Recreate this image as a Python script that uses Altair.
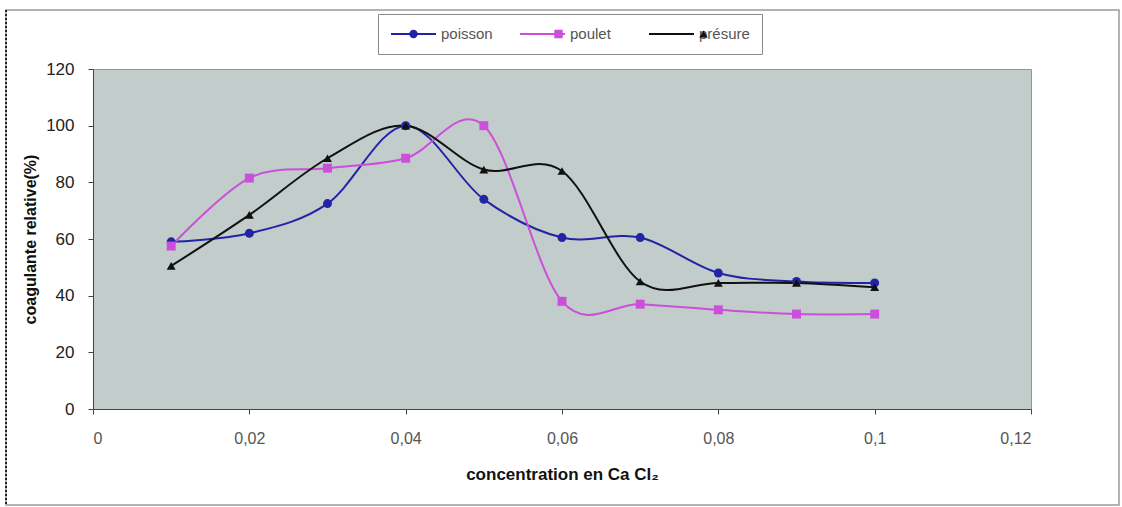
import altair as alt
import pandas as pd

conc = [0.01, 0.02, 0.03, 0.04, 0.05, 0.06, 0.07, 0.08, 0.09, 0.1]
poisson = [59, 62, 72.5, 100, 74, 60.5, 60.5, 48, 45, 44.5]
poulet = [57.5, 81.5, 85, 88.5, 100, 38, 37, 35, 33.5, 33.5]
presure = [50.5, 68.5, 88.5, 100, 84.5, 84, 45, 44.5, 44.5, 43]

series_names = ["poisson", "poulet", "présure"]
series_colors = ["#2323a6", "#cc4fdc", "#111111"]
series_shapes = ["circle", "square", "triangle-up"]
x_ticks = [0, 0.02, 0.04, 0.06, 0.08, 0.1, 0.12]
y_ticks = [0, 20, 40, 60, 80, 100, 120]

rows = []
for name, vals in zip(series_names, [poisson, poulet, presure]):
    for c, v in zip(conc, vals):
        rows.append({"conc": c, "val": v, "serie": name})
df = pd.DataFrame(rows)

x_enc = alt.X(
    "conc:Q",
    scale=alt.Scale(domain=[0, 0.12], nice=False, zero=False),
    axis=alt.Axis(
        values=x_ticks,
        labelExpr="replace(toString(datum.value), '.', ',')",
        title="concentration en Ca Cl₂",
        grid=False,
        tickSize=5,
        labelPadding=16,
        labelFontSize=16,
        labelColor="#555555",
        labelFont="Liberation Sans",
        titleFont="Liberation Sans",
        titleFontSize=17,
        titleFontWeight="bold",
        titleColor="#111111",
        titlePadding=20,
        domainColor="#444444",
        tickColor="#444444",
    ),
)
y_enc = alt.Y(
    "val:Q",
    scale=alt.Scale(domain=[0, 120], nice=False),
    axis=alt.Axis(
        values=y_ticks,
        title="coagulante relative(%)",
        grid=False,
        tickSize=5,
        labelPadding=14,
        labelFontSize=17,
        labelColor="#222222",
        labelFont="Liberation Sans",
        titleFont="Liberation Sans",
        titleFontSize=16,
        titleFontWeight="bold",
        titleColor="#111111",
        titleAngle=270,
        titleX=-63,
        titleY=170,
        titleAlign="center",
        titleBaseline="middle",
        domainColor="#444444",
        tickColor="#444444",
    ),
)

common_legend = dict(
    title=None,
    orient="none",
    direction="horizontal",
    columns=3,
    gridAlign="all",
    legendX=285,
    legendY=-55,
    padding=12,
    clipHeight=16,
    columnPadding=26,
    labelFontSize=15,
    labelFont="Liberation Sans",
)

# line part of the legend (drawn with its box)
line_legend = alt.Legend(
    **common_legend,
    fillColor="white",
    strokeColor="#8a8a8a",
    symbolType="stroke",
    symbolSize=2025,
    symbolStrokeWidth=2,
    labelOffset=4,
    labelColor="#555555",
    zindex=0,
)

# marker part of the legend (sits on top of the line symbols)
marker_legend = alt.Legend(
    **common_legend,
    symbolSize=70,
    symbolStrokeWidth=0,
    symbolOffset=16,
    labelOffset=36,
    labelOpacity=0,
    zindex=1,
)

lines = alt.Chart(df).mark_line(interpolate="cardinal", strokeWidth=2).encode(
    x=x_enc,
    y=y_enc,
    stroke=alt.Stroke(
        "serie:N",
        scale=alt.Scale(domain=series_names, range=series_colors),
        legend=line_legend,
    ),
)

points = (
    alt.Chart(df)
    .transform_calculate(serie_m="datum.serie")
    .mark_point(filled=True, size=80, opacity=1)
    .encode(
        x="conc:Q",
        y="val:Q",
        color=alt.Color(
            "serie_m:N",
            scale=alt.Scale(range=series_colors),
            legend=marker_legend,
        ),
        shape=alt.Shape(
            "serie_m:N",
            scale=alt.Scale(range=series_shapes),
            legend=marker_legend,
        ),
    )
)

frame_data = alt.Data(values=[{"k": 1}])
frame = alt.Chart(frame_data).mark_rect(fill=None, stroke="#9a9a9a", strokeWidth=1.5).encode(
    x=alt.value(-87), x2=alt.value(1026), y=alt.value(-59), y2=alt.value(436)
)
left_edge = alt.Chart(frame_data).mark_rule(
    stroke="#222222", strokeWidth=2, strokeDash=[2, 2]
).encode(x=alt.value(-87), y=alt.value(-59), y2=alt.value(436))

chart = (
    alt.layer(frame, left_edge, lines, points)
    .properties(
        width=938,
        height=340,
        autosize=alt.AutoSizeParams(type="none"),
        padding={"left": 93, "top": 69, "right": 91, "bottom": 98},
        background="white",
    )
    .configure_view(fill="#c2ccca", stroke="#8f9898", strokeWidth=1)
)

chart.save("out.html", embed_options={"renderer": "svg", "actions": False})
